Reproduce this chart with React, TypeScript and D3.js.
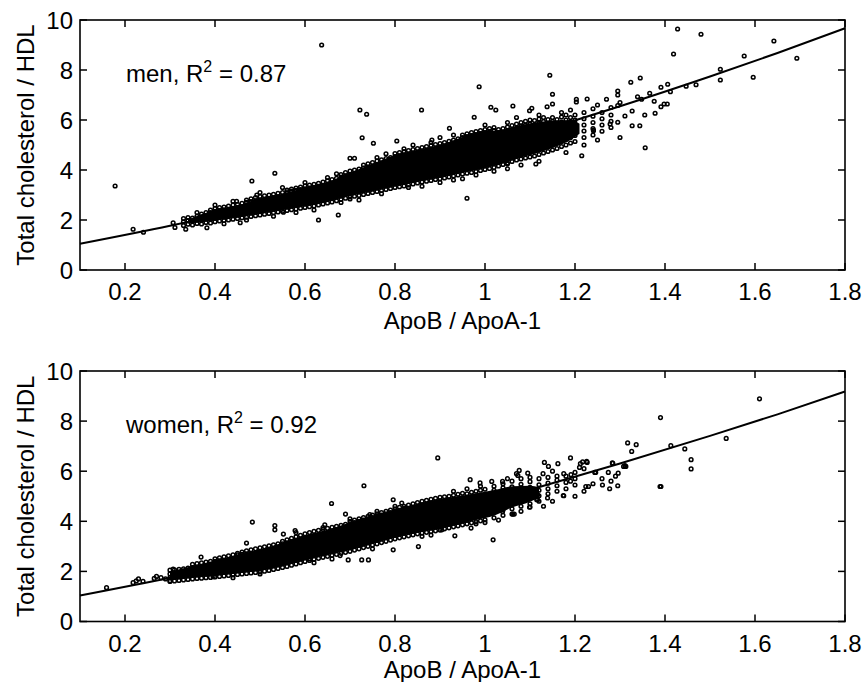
import React from "react";
import * as d3 from "d3";

// x range and tick labels shared by both panels
const xTicks = [0.2, 0.4, 0.6, 0.8, 1, 1.2, 1.4, 1.6, 1.8];
const yTicks = [0, 2, 4, 6, 8, 10];

// fitted curves
const menFit: [number, number][] = [
  [0.1, 1.05], [0.3, 1.77], [0.5, 2.58], [0.7, 3.46], [0.9, 4.41],
  [1.1, 5.44], [1.3, 6.55], [1.5, 7.74], [1.65, 8.68], [1.8, 9.67],
];
const womenFit: [number, number][] = [
  [0.1, 1.04], [0.3, 1.75], [0.5, 2.53], [0.7, 3.37], [0.9, 4.28],
  [1.1, 5.26], [1.3, 6.31], [1.5, 7.41], [1.65, 8.27], [1.8, 9.18],
];

// where the circles overlap into solid black: [x, low, high]
const menSolid: [number, number, number][] = [
  [0.34, 1.86, 2.02], [0.4, 1.98, 2.4], [0.45, 2.1, 2.58], [0.5, 2.25, 2.88],
  [0.55, 2.4, 3.05], [0.6, 2.55, 3.3], [0.65, 2.73, 3.52], [0.7, 2.97, 3.9],
  [0.75, 3.15, 4.24], [0.8, 3.35, 4.6], [0.85, 3.53, 4.8], [0.9, 3.7, 5.0],
  [0.95, 3.9, 5.32], [1.0, 4.07, 5.55], [1.04, 4.27, 5.62], [1.08, 4.5, 5.8],
  [1.12, 4.7, 5.92], [1.16, 4.95, 5.98], [1.19, 5.2, 6.0], [1.21, 5.45, 5.85],
];
const womenSolid: [number, number, number][] = [
  [0.3, 1.65, 2.0], [0.35, 1.75, 2.22], [0.4, 1.83, 2.44], [0.45, 1.93, 2.66],
  [0.5, 2.03, 2.88], [0.55, 2.21, 3.14], [0.6, 2.45, 3.44], [0.65, 2.65, 3.66],
  [0.7, 2.85, 3.95], [0.75, 3.1, 4.2], [0.8, 3.35, 4.45], [0.85, 3.55, 4.7],
  [0.9, 3.7, 4.9], [0.94, 3.86, 5.0], [0.98, 4.05, 5.12], [1.02, 4.22, 5.25],
  [1.06, 4.55, 5.4], [1.1, 4.78, 5.42], [1.12, 4.95, 5.35],
];

// dense part of the men cloud, by column: [ApoB/ApoA-1, [TC/HDL...]]
const menCore: [number, number[]][] = [
  [0.33, [1.78, 1.93, 2.06]], [0.34, [1.83, 1.98, 2.1]], [0.35, [1.8, 1.95, 2.08]],
  [0.36, [1.86, 2.0, 2.15]], [0.37, [1.84, 1.98, 2.12, 2.24]], [0.38, [1.9, 2.04, 2.18, 2.3]],
  [0.39, [1.88, 2.02, 2.16, 2.3, 2.4]], [0.4, [1.93, 2.07, 2.21, 2.35, 2.46]],
  [0.41, [1.96, 2.1, 2.24, 2.38, 2.5]], [0.42, [1.98, 2.12, 2.27, 2.41, 2.52]],
  [0.43, [2.0, 2.15, 2.29, 2.43, 2.56]], [0.44, [2.03, 2.18, 2.32, 2.46, 2.6]],
  [0.45, [2.06, 2.2, 2.35, 2.5, 2.63]], [0.46, [2.09, 2.23, 2.38, 2.52, 2.67]],
  [0.47, [2.11, 2.26, 2.41, 2.56, 2.71, 2.8]], [0.48, [2.14, 2.29, 2.44, 2.59, 2.74, 2.85]],
  [0.49, [2.17, 2.32, 2.47, 2.62, 2.77, 2.9]], [0.5, [2.2, 2.35, 2.5, 2.65, 2.8, 2.94]],
  [0.51, [2.23, 2.38, 2.53, 2.68, 2.83, 2.97]], [0.52, [2.26, 2.41, 2.56, 2.71, 2.86, 3.0]],
  [0.53, [2.29, 2.44, 2.59, 2.74, 2.89, 3.03]], [0.54, [2.32, 2.47, 2.62, 2.77, 2.92, 3.07]],
  [0.55, [2.35, 2.5, 2.65, 2.8, 2.95, 3.1]], [0.56, [2.38, 2.53, 2.68, 2.83, 2.98, 3.13, 3.2]],
  [0.57, [2.41, 2.56, 2.71, 2.86, 3.01, 3.16, 3.24]], [0.58, [2.44, 2.59, 2.74, 2.89, 3.04, 3.19, 3.28]],
  [0.59, [2.47, 2.62, 2.77, 2.92, 3.07, 3.22, 3.32]], [0.6, [2.5, 2.65, 2.8, 2.95, 3.1, 3.25, 3.36]],
  [0.61, [2.53, 2.68, 2.83, 2.98, 3.13, 3.28, 3.4]], [0.62, [2.56, 2.71, 2.86, 3.01, 3.16, 3.31, 3.43]],
  [0.63, [2.6, 2.75, 2.9, 3.05, 3.2, 3.35, 3.47]], [0.64, [2.64, 2.79, 2.94, 3.09, 3.24, 3.39, 3.52]],
  [0.65, [2.68, 2.83, 2.98, 3.13, 3.28, 3.43, 3.57]], [0.66, [2.72, 2.87, 3.02, 3.17, 3.32, 3.47, 3.62]],
  [0.67, [2.77, 2.92, 3.07, 3.22, 3.37, 3.52, 3.67]], [0.68, [2.82, 2.97, 3.12, 3.27, 3.42, 3.57, 3.72, 3.82]],
  [0.69, [2.87, 3.02, 3.17, 3.32, 3.47, 3.62, 3.77, 3.9]], [0.7, [2.92, 3.07, 3.22, 3.37, 3.52, 3.67, 3.82, 3.96]],
  [0.71, [2.95, 3.1, 3.25, 3.4, 3.55, 3.7, 3.85, 4.0]], [0.72, [2.98, 3.13, 3.28, 3.43, 3.58, 3.73, 3.88, 4.04]],
  [0.73, [3.02, 3.17, 3.32, 3.47, 3.62, 3.77, 3.92, 4.08, 4.2]],
  [0.74, [3.06, 3.21, 3.36, 3.51, 3.66, 3.81, 3.96, 4.12, 4.25]],
  [0.75, [3.1, 3.25, 3.4, 3.55, 3.7, 3.85, 4.0, 4.16, 4.3]],
  [0.76, [3.14, 3.29, 3.44, 3.59, 3.74, 3.89, 4.04, 4.2, 4.36]],
  [0.77, [3.18, 3.33, 3.48, 3.63, 3.78, 3.93, 4.08, 4.24, 4.41]],
  [0.78, [3.22, 3.37, 3.52, 3.67, 3.82, 3.97, 4.12, 4.28, 4.46]],
  [0.79, [3.26, 3.41, 3.56, 3.71, 3.86, 4.01, 4.16, 4.32, 4.5]],
  [0.8, [3.3, 3.45, 3.6, 3.75, 3.9, 4.05, 4.2, 4.36, 4.54, 4.66]],
  [0.81, [3.33, 3.48, 3.63, 3.78, 3.93, 4.08, 4.23, 4.4, 4.57, 4.7]],
  [0.82, [3.36, 3.51, 3.66, 3.81, 3.96, 4.11, 4.27, 4.44, 4.6, 4.74]],
  [0.83, [3.4, 3.55, 3.7, 3.85, 4.0, 4.15, 4.31, 4.48, 4.64, 4.78]],
  [0.84, [3.44, 3.59, 3.74, 3.89, 4.04, 4.19, 4.35, 4.52, 4.68, 4.82]],
  [0.85, [3.48, 3.63, 3.78, 3.93, 4.08, 4.23, 4.39, 4.56, 4.72, 4.86]],
  [0.86, [3.52, 3.67, 3.82, 3.97, 4.12, 4.27, 4.43, 4.6, 4.76, 4.9]],
  [0.87, [3.55, 3.7, 3.85, 4.0, 4.16, 4.32, 4.48, 4.64, 4.8, 4.94]],
  [0.88, [3.58, 3.73, 3.88, 4.04, 4.2, 4.36, 4.52, 4.68, 4.84, 4.98]],
  [0.89, [3.62, 3.77, 3.92, 4.08, 4.24, 4.4, 4.56, 4.72, 4.88, 5.02]],
  [0.9, [3.65, 3.8, 3.96, 4.12, 4.28, 4.44, 4.6, 4.76, 4.92, 5.06]],
  [0.91, [3.68, 3.84, 4.0, 4.16, 4.32, 4.48, 4.64, 4.8, 4.96, 5.1]],
  [0.92, [3.72, 3.88, 4.04, 4.2, 4.36, 4.52, 4.68, 4.84, 5.0, 5.15]],
  [0.93, [3.76, 3.92, 4.08, 4.24, 4.4, 4.56, 4.72, 4.88, 5.04, 5.2]],
  [0.94, [3.8, 3.96, 4.12, 4.28, 4.44, 4.6, 4.76, 4.92, 5.08, 5.25]],
  [0.95, [3.84, 4.0, 4.16, 4.32, 4.48, 4.64, 4.8, 4.96, 5.12, 5.3, 5.4]],
  [0.96, [3.87, 4.03, 4.19, 4.35, 4.51, 4.67, 4.83, 4.99, 5.16, 5.34, 5.45]],
  [0.97, [3.9, 4.06, 4.22, 4.38, 4.54, 4.7, 4.86, 5.02, 5.2, 5.38, 5.5]],
  [0.98, [3.94, 4.1, 4.26, 4.42, 4.58, 4.74, 4.9, 5.06, 5.24, 5.42, 5.54]],
  [0.99, [3.98, 4.14, 4.3, 4.46, 4.62, 4.78, 4.94, 5.1, 5.28, 5.46, 5.58]],
  [1.0, [4.02, 4.18, 4.34, 4.5, 4.66, 4.82, 4.98, 5.14, 5.32, 5.5, 5.62]],
  [1.01, [4.06, 4.22, 4.38, 4.54, 4.7, 4.86, 5.02, 5.18, 5.36, 5.54, 5.66]],
  [1.02, [4.1, 4.26, 4.42, 4.58, 4.74, 4.9, 5.06, 5.22, 5.4, 5.58, 5.7]],
  [1.03, [4.16, 4.32, 4.48, 4.64, 4.8, 4.96, 5.12, 5.28, 5.44, 5.62]],
  [1.04, [4.22, 4.38, 4.54, 4.7, 4.86, 5.02, 5.18, 5.34, 5.5, 5.66]],
  [1.05, [4.28, 4.44, 4.6, 4.76, 4.92, 5.08, 5.24, 5.4, 5.56, 5.72]],
  [1.06, [4.34, 4.5, 4.66, 4.82, 4.98, 5.14, 5.3, 5.46, 5.62, 5.78]],
  [1.07, [4.4, 4.56, 4.72, 4.88, 5.04, 5.2, 5.36, 5.52, 5.68, 5.84]],
  [1.08, [4.44, 4.62, 4.8, 4.96, 5.12, 5.28, 5.44, 5.6, 5.76, 5.9]],
  [1.09, [4.48, 4.66, 4.84, 5.0, 5.16, 5.32, 5.48, 5.64, 5.8, 5.95]],
  [1.1, [4.52, 4.7, 4.88, 5.04, 5.2, 5.36, 5.52, 5.68, 5.84, 6.0]],
  [1.11, [4.56, 4.76, 4.94, 5.1, 5.28, 5.46, 5.62, 5.8, 5.98]],
  [1.12, [4.62, 4.82, 5.0, 5.18, 5.36, 5.54, 5.7, 5.88, 6.04]],
  [1.13, [4.68, 4.88, 5.06, 5.24, 5.42, 5.6, 5.78, 5.94, 6.1]],
  [1.14, [4.74, 4.94, 5.14, 5.32, 5.5, 5.68, 5.86, 6.02]],
  [1.15, [4.8, 5.0, 5.2, 5.4, 5.58, 5.76, 5.94, 6.1]],
  [1.16, [4.86, 5.08, 5.28, 5.48, 5.66, 5.84, 6.02]],
  [1.17, [4.94, 5.16, 5.36, 5.56, 5.74, 5.92, 6.12]],
  [1.18, [5.0, 5.22, 5.44, 5.64, 5.82, 6.0, 6.2]],
  [1.19, [5.08, 5.3, 5.52, 5.72, 5.92, 6.1]],
  [1.2, [5.14, 5.38, 5.6, 5.8, 6.0, 6.2]],
  [1.22, [5.3, 5.56, 5.8, 6.05, 6.3]],
  [1.24, [5.4, 5.66, 5.9, 6.15, 6.45]],
  [1.26, [5.55, 5.8, 6.05, 6.3]],
  [1.28, [5.7, 5.95, 6.2, 6.5]],
];

// scattered men points outside the dense band
const menScatter: [number, number][] = [
  [0.178, 3.36], [0.218, 1.63], [0.241, 1.51], [0.307, 1.89], [0.311, 1.7], [0.335, 1.63],
  [0.382, 1.69], [0.456, 1.89], [0.482, 3.56], [0.533, 3.87], [0.552, 2.31], [0.63, 2.0],
  [0.674, 2.2], [0.637, 9.0], [0.722, 6.4], [0.737, 6.23], [0.727, 5.29], [0.752, 5.07],
  [0.859, 6.4], [0.804, 5.16], [0.7, 4.47], [0.71, 4.47], [0.7, 2.84], [0.448, 2.75], [0.493, 3.0],
  [1.428, 9.64], [1.48, 9.43], [1.419, 8.64], [1.642, 9.16], [1.693, 8.47], [1.576, 8.56],
  [1.596, 7.71], [1.523, 8.03], [1.523, 7.6], [1.469, 7.41], [1.447, 7.35], [1.406, 7.43],
  [1.391, 7.31], [1.412, 7.13], [1.366, 7.07], [1.345, 7.68], [1.324, 7.51], [1.295, 7.16],
  [1.295, 7.0], [1.27, 6.83], [1.227, 6.84], [1.203, 6.83], [1.203, 6.72], [1.339, 6.93],
  [1.348, 6.83], [1.376, 6.75], [1.398, 6.64], [1.391, 6.53], [1.405, 6.64], [1.327, 6.36],
  [1.295, 6.58], [1.311, 6.16], [1.295, 5.91], [1.278, 5.84], [1.327, 5.77], [1.344, 5.77],
  [1.355, 6.2], [1.378, 6.27], [1.356, 4.89], [1.215, 4.57], [1.241, 5.57], [1.113, 4.24],
  [0.96, 2.87], [0.987, 7.33], [1.144, 7.79], [1.013, 6.51], [1.024, 6.4], [1.062, 6.56],
  [1.15, 7.03], [0.976, 6.11], [1.099, 6.37], [1.104, 6.47], [1.138, 6.53], [1.15, 6.64],
  [0.921, 5.67], [0.882, 5.2], [1.05, 4.24], [1.241, 5.6],
  [0.83, 3.3], [0.86, 3.35], [0.9, 3.5], [0.93, 3.6], [0.95, 3.65], [0.98, 3.8], [1.02, 3.95],
  [1.05, 4.05], [1.08, 4.2], [1.12, 4.35], [1.18, 4.7], [1.22, 5.0], [1.25, 5.2], [1.3, 5.3],
  [0.55, 3.3], [0.6, 3.5], [0.65, 3.7], [0.67, 3.85], [0.76, 4.5], [0.78, 4.65], [0.82, 4.85],
  [0.84, 5.0], [0.88, 5.1], [0.9, 5.3], [0.93, 5.4], [1.0, 5.8], [1.05, 5.9], [1.07, 6.1],
  [1.12, 6.2], [1.17, 6.3], [1.19, 6.4], [1.25, 6.6], [1.3, 6.7], [0.4, 2.6], [0.44, 2.75],
  [0.36, 2.3], [0.5, 3.1], [0.58, 2.3], [0.62, 2.4], [0.68, 2.7], [0.72, 2.8], [0.77, 3.05],
  [0.53, 2.15], [0.47, 2.0], [0.42, 1.85],
];

// dense part of the women cloud
const womenCore: [number, number[]][] = [
  [0.3, [1.6, 1.75, 1.9, 2.05]], [0.31, [1.62, 1.77, 1.92, 2.06]], [0.32, [1.64, 1.79, 1.94, 2.08]],
  [0.33, [1.66, 1.81, 1.96, 2.1]], [0.34, [1.68, 1.83, 1.98, 2.13]],
  [0.35, [1.7, 1.85, 2.0, 2.15, 2.28]], [0.36, [1.72, 1.87, 2.02, 2.17, 2.31]],
  [0.37, [1.73, 1.88, 2.03, 2.18, 2.34]], [0.38, [1.75, 1.9, 2.05, 2.2, 2.37]],
  [0.39, [1.76, 1.91, 2.06, 2.22, 2.4]], [0.4, [1.78, 1.93, 2.08, 2.24, 2.4, 2.5]],
  [0.41, [1.8, 1.95, 2.1, 2.26, 2.42, 2.54]], [0.42, [1.82, 1.97, 2.12, 2.28, 2.44, 2.58]],
  [0.43, [1.84, 1.99, 2.14, 2.3, 2.46, 2.62]], [0.44, [1.86, 2.01, 2.16, 2.32, 2.48, 2.66]],
  [0.45, [1.88, 2.03, 2.18, 2.34, 2.5, 2.66, 2.72]], [0.46, [1.9, 2.05, 2.2, 2.36, 2.52, 2.68, 2.77]],
  [0.47, [1.92, 2.07, 2.22, 2.38, 2.54, 2.7, 2.82]], [0.48, [1.94, 2.09, 2.24, 2.4, 2.56, 2.72, 2.86]],
  [0.49, [1.96, 2.11, 2.26, 2.42, 2.58, 2.74, 2.9]], [0.5, [1.98, 2.13, 2.28, 2.44, 2.6, 2.76, 2.94]],
  [0.51, [2.01, 2.16, 2.31, 2.47, 2.63, 2.79, 2.98]], [0.52, [2.04, 2.19, 2.34, 2.5, 2.66, 2.82, 3.02]],
  [0.53, [2.08, 2.23, 2.38, 2.54, 2.7, 2.86, 3.06]], [0.54, [2.12, 2.27, 2.42, 2.58, 2.74, 2.9, 3.1]],
  [0.55, [2.16, 2.31, 2.46, 2.62, 2.78, 2.94, 3.1, 3.2]],
  [0.56, [2.2, 2.35, 2.5, 2.66, 2.82, 2.98, 3.14, 3.26]],
  [0.57, [2.25, 2.4, 2.55, 2.71, 2.87, 3.03, 3.19, 3.32]],
  [0.58, [2.3, 2.45, 2.6, 2.76, 2.92, 3.08, 3.24, 3.38]],
  [0.59, [2.35, 2.5, 2.65, 2.81, 2.97, 3.13, 3.29, 3.44]],
  [0.6, [2.4, 2.55, 2.7, 2.86, 3.02, 3.18, 3.34, 3.5]],
  [0.61, [2.44, 2.59, 2.74, 2.9, 3.06, 3.22, 3.38, 3.55]],
  [0.62, [2.48, 2.63, 2.78, 2.94, 3.1, 3.26, 3.42, 3.6]],
  [0.63, [2.52, 2.67, 2.82, 2.98, 3.14, 3.3, 3.46, 3.64]],
  [0.64, [2.56, 2.71, 2.86, 3.02, 3.18, 3.34, 3.5, 3.68]],
  [0.65, [2.6, 2.75, 2.9, 3.06, 3.22, 3.38, 3.54, 3.72]],
  [0.66, [2.64, 2.79, 2.94, 3.1, 3.26, 3.42, 3.58, 3.76]],
  [0.67, [2.68, 2.83, 2.98, 3.14, 3.3, 3.46, 3.62, 3.8]],
  [0.68, [2.72, 2.87, 3.02, 3.18, 3.34, 3.5, 3.66, 3.84]],
  [0.69, [2.76, 2.91, 3.06, 3.22, 3.38, 3.54, 3.7, 3.88]],
  [0.7, [2.8, 2.95, 3.1, 3.26, 3.42, 3.58, 3.74, 3.9, 4.0]],
  [0.71, [2.85, 3.0, 3.15, 3.31, 3.47, 3.63, 3.79, 3.95, 4.05]],
  [0.72, [2.9, 3.05, 3.2, 3.36, 3.52, 3.68, 3.84, 4.0, 4.1]],
  [0.73, [2.95, 3.1, 3.25, 3.41, 3.57, 3.73, 3.89, 4.05, 4.15]],
  [0.74, [3.0, 3.15, 3.3, 3.46, 3.62, 3.78, 3.94, 4.1, 4.2]],
  [0.75, [3.05, 3.2, 3.35, 3.51, 3.67, 3.83, 3.99, 4.15, 4.25]],
  [0.76, [3.1, 3.25, 3.4, 3.56, 3.72, 3.88, 4.04, 4.2, 4.3]],
  [0.77, [3.15, 3.3, 3.45, 3.61, 3.77, 3.93, 4.09, 4.25, 4.35]],
  [0.78, [3.2, 3.35, 3.5, 3.66, 3.82, 3.98, 4.14, 4.3, 4.4]],
  [0.79, [3.25, 3.4, 3.55, 3.71, 3.87, 4.03, 4.19, 4.35, 4.45]],
  [0.8, [3.3, 3.45, 3.6, 3.76, 3.92, 4.08, 4.24, 4.4, 4.5]],
  [0.81, [3.34, 3.49, 3.64, 3.8, 3.96, 4.12, 4.28, 4.44, 4.56]],
  [0.82, [3.38, 3.53, 3.68, 3.84, 4.0, 4.16, 4.32, 4.48, 4.6]],
  [0.83, [3.42, 3.57, 3.72, 3.88, 4.04, 4.2, 4.36, 4.52, 4.65]],
  [0.84, [3.46, 3.61, 3.76, 3.92, 4.08, 4.24, 4.4, 4.56, 4.7]],
  [0.85, [3.5, 3.65, 3.8, 3.96, 4.12, 4.28, 4.44, 4.6, 4.75]],
  [0.86, [3.53, 3.68, 3.84, 4.0, 4.16, 4.32, 4.48, 4.64, 4.8]],
  [0.87, [3.56, 3.72, 3.88, 4.04, 4.2, 4.36, 4.52, 4.68, 4.84]],
  [0.88, [3.59, 3.75, 3.91, 4.07, 4.23, 4.39, 4.55, 4.71, 4.88]],
  [0.89, [3.62, 3.78, 3.94, 4.1, 4.26, 4.42, 4.58, 4.74, 4.92]],
  [0.9, [3.65, 3.81, 3.97, 4.13, 4.29, 4.45, 4.61, 4.77, 4.96]],
  [0.91, [3.7, 3.88, 4.06, 4.24, 4.42, 4.6, 4.78, 4.98]],
  [0.92, [3.74, 3.92, 4.1, 4.28, 4.46, 4.64, 4.82, 5.0]],
  [0.93, [3.78, 3.96, 4.14, 4.32, 4.5, 4.68, 4.86, 5.04]],
  [0.94, [3.82, 4.0, 4.18, 4.36, 4.54, 4.72, 4.9, 5.08]],
  [0.95, [3.86, 4.04, 4.22, 4.4, 4.58, 4.76, 4.94, 5.12]],
  [0.96, [3.9, 4.1, 4.3, 4.5, 4.7, 4.9, 5.1]],
  [0.97, [3.94, 4.14, 4.34, 4.54, 4.74, 4.94, 5.16]],
  [0.98, [3.98, 4.18, 4.38, 4.58, 4.78, 4.98, 5.2]],
  [0.99, [4.02, 4.22, 4.42, 4.62, 4.82, 5.02, 5.24]],
  [1.0, [4.06, 4.26, 4.46, 4.66, 4.86, 5.06, 5.28]],
  [1.02, [4.14, 4.36, 4.58, 4.8, 5.02, 5.24, 5.4]],
  [1.04, [4.24, 4.46, 4.68, 4.9, 5.12, 5.34, 5.5]],
  [1.06, [4.5, 4.72, 4.94, 5.16, 5.38, 5.6]],
  [1.08, [4.6, 4.82, 5.04, 5.26, 5.48, 5.7]],
  [1.1, [4.7, 4.92, 5.14, 5.36, 5.58]],
  [1.12, [4.8, 5.02, 5.24, 5.46, 5.7]],
  [1.14, [5.1, 5.3, 5.52, 5.75]],
  [1.16, [5.2, 5.42, 5.64]],
  [1.18, [5.3, 5.55, 5.8]],
  [1.2, [5.45, 5.7, 5.95]],
];

const womenScatter: [number, number][] = [
  [0.159, 1.35], [0.218, 1.55], [0.225, 1.62], [0.23, 1.7], [0.24, 1.6], [0.265, 1.72],
  [0.27, 1.8], [0.28, 1.75], [0.29, 1.7], [0.3, 1.63], [0.307, 2.09], [0.369, 2.57],
  [0.396, 1.79], [0.483, 3.97], [0.47, 3.13], [0.533, 3.83], [0.533, 3.66], [0.552, 3.49],
  [0.578, 3.63], [0.644, 3.86], [0.659, 4.71], [0.69, 4.29], [0.731, 5.42], [0.744, 4.27],
  [0.796, 4.86], [0.815, 4.73], [0.822, 4.53], [0.852, 2.99], [0.796, 2.86], [0.741, 2.46],
  [0.726, 2.46], [0.696, 2.46], [0.678, 2.63], [0.61, 2.5],
  [1.61, 8.89], [1.39, 8.14], [1.536, 7.31], [1.413, 7.02], [1.444, 6.89], [1.458, 6.46],
  [1.458, 6.09], [1.391, 5.39], [1.317, 7.13], [1.336, 7.06], [1.326, 6.79], [1.284, 6.31],
  [1.313, 6.19], [1.308, 6.19], [1.296, 5.92], [1.29, 5.8], [1.274, 5.95], [1.295, 5.42],
  [1.277, 5.3], [1.261, 5.45], [1.244, 5.95], [1.224, 5.39], [1.23, 5.39], [1.212, 6.3],
  [1.227, 6.35], [1.22, 6.1], [1.21, 6.15], [1.19, 6.53], [1.191, 5.86], [1.19, 5.6],
  [1.175, 5.9], [1.162, 6.3], [1.175, 5.02], [1.141, 6.19], [1.132, 6.35], [1.129, 5.9],
  [1.139, 4.93], [1.117, 4.86], [1.117, 5.06], [1.099, 4.56], [1.095, 5.92], [1.076, 6.03],
  [1.073, 5.83], [1.06, 4.29], [1.062, 4.29], [1.065, 4.29], [1.039, 4.39], [1.018, 3.26],
  [0.967, 5.66], [0.933, 3.42], [0.895, 6.53], [0.904, 3.66], [0.969, 3.73], [0.989, 5.53],
  [1.015, 5.59], [1.039, 5.59], [1.07, 5.9], [1.1, 4.57], [1.174, 5.03], [1.115, 4.86],
  [1.217, 6.37], [1.226, 6.39], [1.283, 6.33], [1.311, 6.22], [1.389, 5.39], [1.246, 5.95],
  [0.93, 5.2], [0.96, 5.3], [0.99, 5.4], [1.05, 5.7], [1.1, 5.75], [1.16, 5.8], [0.98, 3.9],
  [1.0, 3.95], [1.03, 4.05], [1.08, 4.4], [1.13, 4.6], [1.15, 4.8], [1.2, 5.0], [1.22, 5.2],
  [1.24, 5.5], [1.26, 5.7], [1.28, 5.6], [1.15, 6.0], [0.86, 3.4], [0.88, 3.45], [0.62, 2.35],
  [0.66, 2.5], [0.75, 2.9], [0.5, 1.9], [0.44, 1.75], [0.58, 3.55], [0.64, 3.75], [0.7, 4.1],
  [0.76, 4.4], [0.8, 4.6],
];

const W = 862;
const H = 682;
const left = 80;
const right = 845;
const font = "'Liberation Sans', Arial, Helvetica, sans-serif";

function flatten(core: [number, number[]][], scatter: [number, number][]) {
  const pts: [number, number][] = [];
  core.forEach(([x, ys]) => ys.forEach((y) => pts.push([x, y])));
  return pts.concat(scatter);
}

type PanelProps = {
  top: number;
  bottom: number;
  points: [number, number][];
  solid: [number, number, number][];
  fit: [number, number][];
  group: string;
  r2: string;
};

function Panel({ top, bottom, points, solid, fit, group, r2 }: PanelProps) {
  const x = d3.scaleLinear().domain([0.1, 1.8]).range([left, right]);
  const y = d3.scaleLinear().domain([0, 10]).range([bottom, top]);
  const line = d3
    .line<[number, number]>()
    .x((d) => x(d[0]))
    .y((d) => y(d[1]))
    .curve(d3.curveMonotoneX);
  const band = d3
    .area<[number, number, number]>()
    .x((d) => x(d[0]))
    .y0((d) => y(d[1]))
    .y1((d) => y(d[2]))
    .curve(d3.curveMonotoneX);
  const tick = 7;

  return (
    <g>
      <path d={band(solid) || ""} fill="#000" />
      {points.map((d, i) => (
        <circle
          key={i}
          cx={x(d[0])}
          cy={y(d[1])}
          r={1.85}
          fill="none"
          stroke="#000"
          strokeWidth={1.5}
        />
      ))}
      <path d={line(fit) || ""} fill="none" stroke="#000" strokeWidth={2} />
      <rect
        x={left}
        y={top}
        width={right - left}
        height={bottom - top}
        fill="none"
        stroke="#000"
        strokeWidth={1.6}
      />
      {xTicks.map((t) => (
        <g key={"x" + t}>
          <line x1={x(t)} x2={x(t)} y1={bottom} y2={bottom - tick} stroke="#000" strokeWidth={1.5} />
          <line x1={x(t)} x2={x(t)} y1={top} y2={top + tick} stroke="#000" strokeWidth={1.5} />
          <text
            x={x(t)}
            y={bottom + 30}
            textAnchor="middle"
            fontSize={24}
            fontFamily={font}
          >
            {t}
          </text>
        </g>
      ))}
      {yTicks.map((t) => (
        <g key={"y" + t}>
          <line x1={left} x2={left + tick} y1={y(t)} y2={y(t)} stroke="#000" strokeWidth={1.5} />
          <line x1={right} x2={right - tick} y1={y(t)} y2={y(t)} stroke="#000" strokeWidth={1.5} />
          <text
            x={73}
            y={y(t) + 8.5}
            textAnchor="end"
            fontSize={24}
            fontFamily={font}
          >
            {t}
          </text>
        </g>
      ))}
      <text
        x={(left + right) / 2}
        y={Math.min(bottom + 59, H - 4)}
        textAnchor="middle"
        fontSize={24}
        fontFamily={font}
      >
        ApoB / ApoA-1
      </text>
      <text
        transform={`translate(34,${(top + bottom) / 2}) rotate(-90)`}
        textAnchor="middle"
        fontSize={24}
        fontFamily={font}
      >
        Total cholesterol / HDL
      </text>
      <text x={126} y={top + 62} fontSize={24} fontFamily={font}>
        {group}, R
        <tspan dy={-10} fontSize={16}>
          2
        </tspan>
        <tspan dy={10}> = {r2}</tspan>
      </text>
    </g>
  );
}

export default function App() {
  const men = flatten(menCore, menScatter);
  const women = flatten(womenCore, womenScatter);
  return (
    <svg
      width={W}
      height={H}
      style={{ position: "absolute", left: 0, top: 0, background: "#fff" }}
    >
      <rect width={W} height={H} fill="#fff" />
      <Panel top={20} bottom={270} points={men} solid={menSolid} fit={menFit} group="men" r2="0.87" />
      <Panel
        top={371}
        bottom={621.5}
        points={women}
        solid={womenSolid}
        fit={womenFit}
        group="women"
        r2="0.92"
      />
    </svg>
  );
}
